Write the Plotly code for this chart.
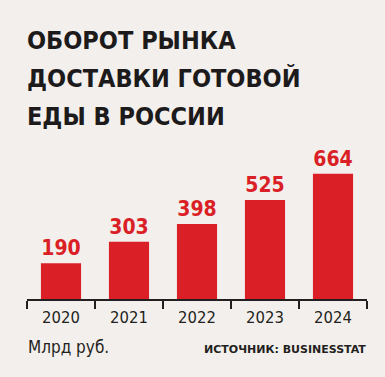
import plotly.graph_objects as go

years = ["2020", "2021", "2022", "2023", "2024"]
values = [190, 303, 398, 525, 664]
value_labels = ["190", "303", "398", "525", "664"]

title_lines = ["ОБОРОТ РЫНКА", "ДОСТАВКИ ГОТОВОЙ", "ЕДЫ В РОССИИ"]
unit_text = "Млрд руб."
source_text = "ИСТОЧНИК: BUSINESSTAT"

BG = "#f3efec"
RED = "#da1f26"
DARK = "#231f20"
COND = "DejaVu Sans Condensed, DejaVu Sans, sans-serif"

W, H = 385, 377
ML, MR, MT, MB = 27, 18, 140, 78
plot_w = W - ML - MR
plot_h = H - MT - MB
ymax = plot_h * 5.30


def px_x(px):
    return (px - ML) / plot_w


def px_y(py):
    return (H - MB - py) / plot_h


fig = go.Figure(
    go.Bar(
        x=years,
        y=values,
        marker=dict(color=RED, line=dict(width=0)),
        width=0.59,
        text=value_labels,
        textposition="outside",
        textfont=dict(family=COND, size=21, color=RED, weight="bold"),
        cliponaxis=False,
        hoverinfo="skip",
    )
)

annotations = []
title_tops = [24, 62, 100]
for line, top in zip(title_lines, title_tops):
    annotations.append(dict(
        text=line,
        xref="paper", yref="paper",
        x=px_x(25), y=px_y(top),
        xanchor="left", yanchor="top",
        showarrow=False,
        font=dict(family=COND, size=25, color="#1c1a1b", weight="bold"),
    ))

annotations.append(dict(
    text=unit_text,
    xref="paper", yref="paper",
    x=px_x(26), y=px_y(335),
    xanchor="left", yanchor="top",
    showarrow=False,
    font=dict(family=COND, size=17, color=DARK),
))
annotations.append(dict(
    text=source_text,
    xref="paper", yref="paper",
    x=px_x(368), y=px_y(341),
    xanchor="right", yanchor="top",
    showarrow=False,
    font=dict(family="DejaVu Sans, sans-serif", size=11, color=DARK, weight="bold"),
))

fig.update_layout(
    width=W,
    height=H,
    margin=dict(l=ML, r=MR, t=MT, b=MB, pad=0),
    paper_bgcolor=BG,
    plot_bgcolor=BG,
    showlegend=False,
    xaxis=dict(
        type="category",
        showline=True,
        linecolor=DARK,
        linewidth=1.5,
        ticks="outside",
        tickson="boundaries",
        ticklen=8,
        tickwidth=1.5,
        tickcolor=DARK,
        showgrid=False,
        tickfont=dict(family=COND, size=16.5, color=DARK),
        ticklabelstandoff=3,
        range=[-0.5, 4.5],
        fixedrange=True,
    ),
    yaxis=dict(
        visible=False,
        range=[0, ymax],
        showgrid=False,
        zeroline=False,
        fixedrange=True,
    ),
    annotations=annotations,
)

fig.write_html(
    "out.html",
    config={"displayModeBar": False, "staticPlot": True},
    post_script="document.body.style.margin='0';document.body.style.background='" + BG + "';",
)
